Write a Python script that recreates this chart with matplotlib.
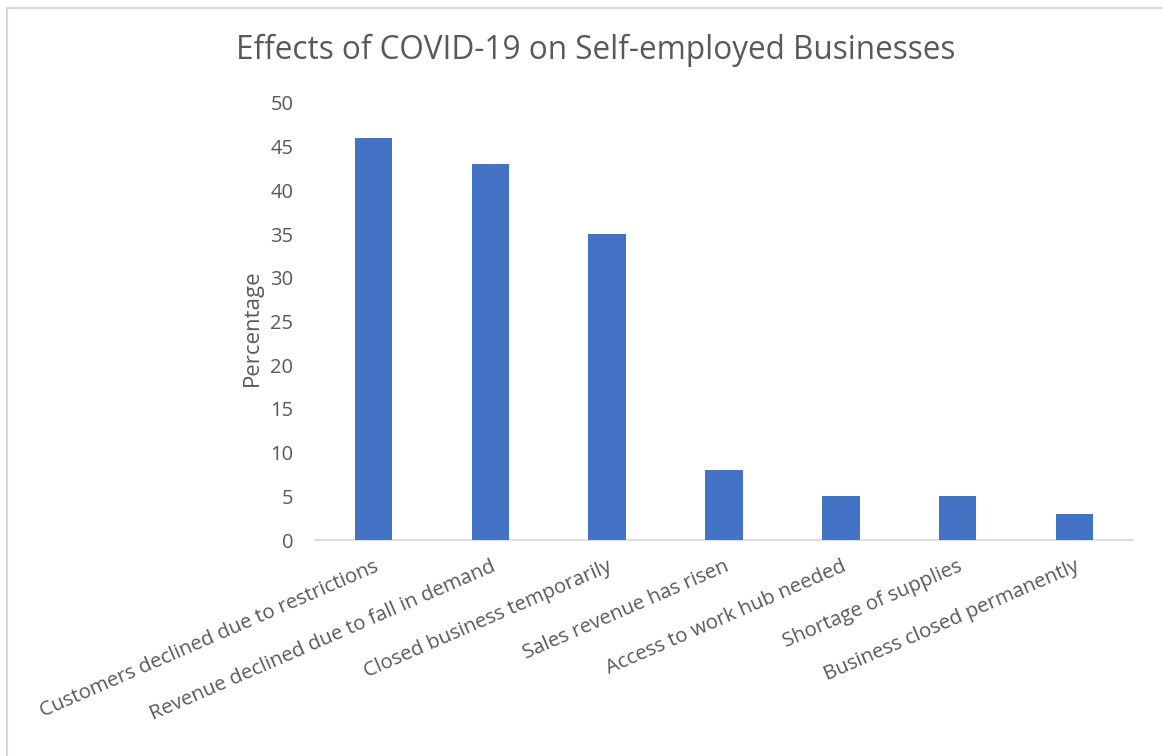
import matplotlib
matplotlib.use('Agg')
import matplotlib.pyplot as plt
from matplotlib.lines import Line2D

#%% chart data
categories = ['Customers declined due to restrictions',
              'Revenue declined due to fall in demand',
              'Closed business temporarily',
              'Sales revenue has risen',
              'Access to work hub needed',
              'Shortage of supplies',
              'Business closed permanently']
percent = [46, 43, 35, 8, 5, 5, 3]
yticks = [0, 5, 10, 15, 20, 25, 30, 35, 40, 45, 50]

txtColor = '#595959'
barColor = '#4472C4'
plt.rcParams['font.family'] = ['Open Sans', 'DejaVu Sans']

W, H = 1163, 756
fig = plt.figure(figsize=(W/100, H/100), dpi=100)
ax = fig.add_axes([315/W, 1-540/H, (1133-315)/W, (540-103)/H])

x = range(len(categories))
ax.bar(x, percent, width=0.32, color=barColor, zorder=3)
ax.set_xlim(-0.5, len(categories)-0.5)
ax.set_ylim(0, 50)
ax.set_yticks(yticks)
ax.set_xticks(list(x))
ax.set_xticklabels(categories, rotation=23.5, ha='right', rotation_mode='anchor',
                   fontsize=14.7, color=txtColor)
ax.tick_params(axis='y', length=0, labelsize=14.5, labelcolor=txtColor, pad=15.5)
ax.tick_params(axis='x', length=0, pad=12)
for s in ['top', 'right', 'left']:
    ax.spines[s].set_visible(False)
ax.spines['bottom'].set_color('#D9D9D9')
ax.spines['bottom'].set_linewidth(1.2)
ax.set_ylabel('Percentage', fontsize=16, color=txtColor)
ax.yaxis.set_label_coords((263 - 315) / (1133 - 315), (540 - 328) / (540 - 103))

fig.text(596/W, 1-50/H, 'Effects of COVID-19 on Self-employed Businesses',
         ha='center', va='center', fontsize=22.7, color=txtColor)

# chart area border (only top and left edges are visible)
fig.add_artist(Line2D([7/W, 7/W], [0, 1-8/H], transform=fig.transFigure, color='#D9D9D9', lw=1.5))
fig.add_artist(Line2D([7/W, 1], [1-8/H, 1-8/H], transform=fig.transFigure, color='#D9D9D9', lw=1.5))

fig.savefig('out.png', dpi=100)
